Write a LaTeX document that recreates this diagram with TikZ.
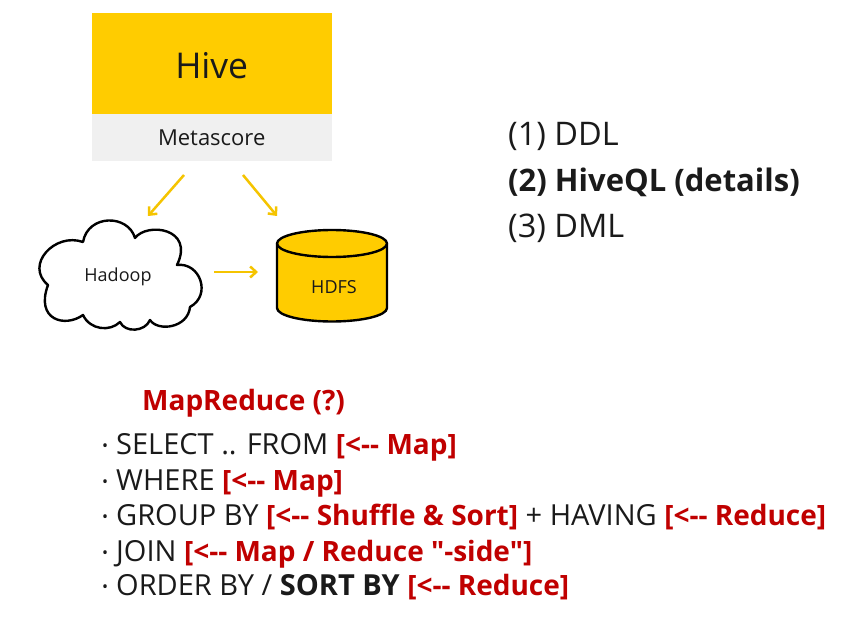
\documentclass[tikz,border=0pt]{standalone}
\usepackage{fontspec}
\setmainfont[Ligatures=TeXOff]{Open Sans}
\usetikzlibrary{arrows.meta}
\definecolor{hiveyellow}{HTML}{FFCC00}
\definecolor{metagrey}{HTML}{F0F0F0}
\definecolor{redtext}{HTML}{C00000}
\definecolor{inkblack}{HTML}{1A1A1A}
\definecolor{arrowyellow}{HTML}{F5C400}
\newcommand{\rd}[1]{{\fontsize{28}{30}\selectfont\bfseries\color{redtext}#1}}
\newcommand{\bul}{\makebox[14pt][l]{\raisebox{3pt}{\fontsize{16}{16}\selectfont •}}}
\tikzset{
  conn/.style={draw=arrowyellow,line width=2.5pt,-{Straight Barb[length=6pt,width=11pt,line width=2.5pt]}},
  lbl/.style={inner sep=0pt,text=inkblack},
  mainline/.style={lbl,anchor=base west,font=\fontsize{32.5}{36}\selectfont},
  listline/.style={lbl,anchor=base west,font=\fontsize{29}{32}\selectfont},
  shapeline/.style={draw=black,line width=2.4pt,line join=round},
  smalllbl/.style={lbl,font=\fontsize{18}{20}\selectfont}
}
\begin{document}
\begin{tikzpicture}[x=1pt,y=-1pt]
\useasboundingbox (0,0) rectangle (861,620);
\fill[white] (0,0) rectangle (861,620);
% Hive block
\node[fill=hiveyellow,minimum width=240pt,minimum height=101pt,inner sep=0pt,anchor=north west] (hive) at (91.5,12.5) {};
\node[lbl,font=\fontsize{35.5}{38}\selectfont] (hivetext) at (hive.center) [yshift=-2pt] {Hive};
\node[fill=metagrey,minimum width=240pt,minimum height=47pt,inner sep=0pt,anchor=north west] (meta) at (91.5,113.5) {};
\node[lbl,font=\fontsize{22}{24}\selectfont] (metatext) at (meta.center) [yshift=-1pt] {Metascore};
% Cloud
\draw[shapeline,fill=white]
 (83,242) .. controls (88,214) and (128,214) .. (135,238)
 .. controls (147,222) and (195,228) .. (177,265)
 .. controls (200,262) and (212,295) .. (190,307)
 .. controls (188,328) and (158,332) .. (150,320)
 .. controls (145,332) and (125,333) .. (120,322)
 .. controls (110,332) and (90,330) .. (83,315)
 .. controls (65,328) and (35,320) .. (48,285)
 .. controls (24,265) and (55,232) .. (83,242) -- cycle;
\node[smalllbl] (hadoop) at (118,276.5) {Hadoop};
% Cylinder
\fill[hiveyellow] (277,243.5) rectangle (387,308);
\fill[hiveyellow] (332,243.5) ellipse[x radius=55pt,y radius=13.5pt];
\fill[hiveyellow] (332,308) ellipse[x radius=55pt,y radius=13.5pt];
\draw[shapeline] (332,243.5) ellipse[x radius=55pt,y radius=13.5pt];
\draw[shapeline] (277,243.5) -- (277,308) arc[start angle=180,end angle=360,x radius=55pt,y radius=13.5pt] -- (387,243.5);
\node[smalllbl] (hdfs) at (334,287) {HDFS};
% Connectors
\coordinate (a1s) at (184,175); \coordinate (a1e) at (148,216);
\coordinate (a2s) at (243,175); \coordinate (a2e) at (277,216);
\coordinate (a3s) at (214,272); \coordinate (a3e) at (258,272);
\draw[conn] (a1s) -- (a1e);
\draw[conn] (a2s) -- (a2e);
\draw[conn] (a3s) -- (a3e);
% Right list
\node[mainline] (ddl) at (508,146) {(1) DDL};
\node[mainline,font=\fontsize{31}{36}\selectfont\bfseries] (hql) at (508,192) {(2) HiveQL (details)};
\node[mainline] (dml) at (508,237) {(3) DML};
% Bottom text
\node[listline] (mr) at (142,410) {\rd{MapReduce (?)}};
\node[listline] (l1) at (102,454) {\bul SELECT .. FROM \rd{[<-- Map]}};
\node[listline] (l2) at (102,490) {\bul WHERE \rd{[<-- Map]}};
\node[listline] (l3) at (102,525) {\bul GROUP BY \rd{[<-- Shuffle \& Sort]} + HAVING \rd{[<-- Reduce]}};
\node[listline] (l4) at (102,561) {\bul JOIN \rd{[<-- Map / Reduce "-side"]}};
\node[listline] (l5) at (102,595) {\bul ORDER BY / {\bfseries SORT BY} \rd{[<-- Reduce]}};
\end{tikzpicture}
\end{document}
